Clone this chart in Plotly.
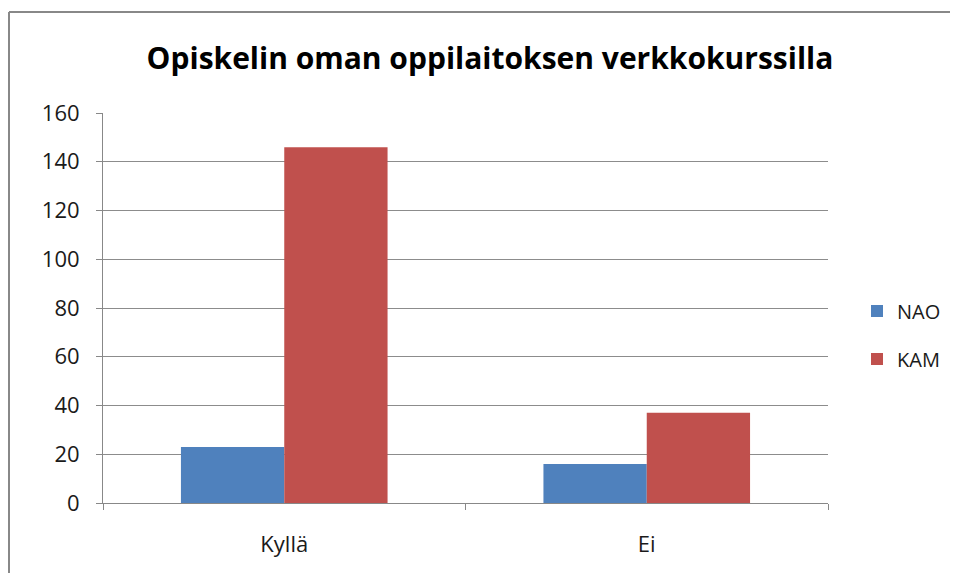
import plotly.graph_objects as go

categories = ["Kyllä", "Ei"]
nao = [23, 16]
kam = [146, 37]
series_names = ["NAO", "KAM"]
yticks = [0, 20, 40, 60, 80, 100, 120, 140, 160]

OFF = 8  # page body margin in the browser
SW, SH = 958, 581
W, H = SW - 2 * OFF, SH - 2 * OFF
# target plot area in screenshot pixels
PX0, PX1, PY0, PY1 = 103, 828, 113, 503
L, T = PX0 - OFF, PY0 - OFF
pw, ph = PX1 - PX0, PY1 - PY0
R, B = W - L - pw, H - T - ph

font = "Open Sans"
fig = go.Figure()
fig.add_trace(go.Bar(x=categories, y=nao, name=series_names[0], marker_color="#4F81BD",
                     marker_line_width=0, legend="legend", showlegend=True))
fig.add_trace(go.Bar(x=categories, y=kam, name=series_names[1], marker_color="#C0504D",
                     marker_line_width=0, legend="legend2", showlegend=True))

def px_x(p):
    return (p - PX0) / pw

def px_y(p):
    return (PY1 - p) / ph

leg_font = dict(size=20, color="#1a1a1a")
fig.update_layout(
    width=W, height=H,
    margin=dict(l=L, r=R, t=T, b=B, autoexpand=False),
    paper_bgcolor="white", plot_bgcolor="white",
    showlegend=True,
    barmode="group", bargap=0.43, bargroupgap=0,
    font=dict(family=font, size=22, color="#1a1a1a"),
    title=dict(text="<b>Opiskelin oman oppilaitoksen verkkokurssilla</b>",
               x=(490 - OFF) / W, xanchor="center", y=1 - (58 - OFF) / H, yanchor="middle",
               font=dict(family=font, size=30, color="#000000")),
    xaxis=dict(showline=True, linecolor="#888888", linewidth=1,
               ticks="outside", tickson="boundaries", ticklen=6, tickcolor="#888888",
               showgrid=False, ticklabelstandoff=22, automargin=False,
               tickfont=dict(size=22, color="#1a1a1a")),
    yaxis=dict(range=[0, 160], tickvals=yticks, showline=True, linecolor="#888888",
               linewidth=1, ticks="outside", ticklen=6, tickcolor="#888888",
               showgrid=True, gridcolor="#8c8c8c", gridwidth=1, zeroline=False,
               ticklabelstandoff=12, automargin=False,
               tickfont=dict(size=22, color="#1a1a1a")),
    legend=dict(x=px_x(857), y=px_y(311), xanchor="left", yanchor="middle",
                font=leg_font, bgcolor="rgba(0,0,0,0)", itemwidth=30),
    legend2=dict(x=px_x(857), y=px_y(359), xanchor="left", yanchor="middle",
                 font=leg_font, bgcolor="rgba(0,0,0,0)", itemwidth=30),
    shapes=[
        dict(type="line", xref="paper", yref="paper", x0=px_x(OFF + 1), x1=px_x(SW + 20),
             y0=px_y(12), y1=px_y(12), line=dict(color="#888888", width=2)),
        dict(type="line", xref="paper", yref="paper", x0=px_x(OFF + 1), x1=px_x(OFF + 1),
             y0=px_y(12), y1=px_y(SH + 20), line=dict(color="#888888", width=2)),
    ],
)

fig.write_html("out.html")
